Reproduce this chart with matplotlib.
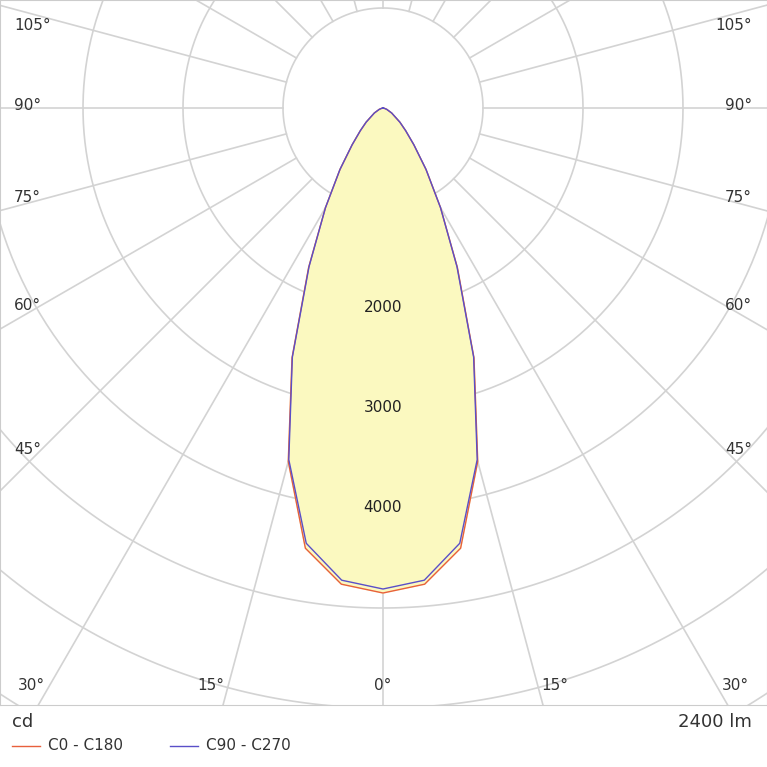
import numpy as np
import matplotlib
matplotlib.use("Agg")
import matplotlib.pyplot as plt

gamma = [0, 5, 10, 15, 20, 25, 30, 35, 40, 45, 50, 60, 70, 80, 90]
c0_c180 = [4850, 4780, 4470, 3660, 2660, 1760, 1150, 750, 480, 320, 220, 100, 40, 10, 0]
c90_c270 = [4810, 4740, 4420, 3640, 2650, 1750, 1150, 750, 480, 320, 220, 100, 40, 10, 0]
ring_labels = [2000, 3000, 4000]
flux_label = "2400 lm"
unit_label = "cd"
series_names = ["C0 - C180", "C90 - C270"]

W = H = 767
fig = plt.figure(figsize=(W/100, H/100), dpi=100)
ax = fig.add_axes([0, (767-705)/767, 1, 705/767])
sc = 10.0  # cd per pixel
ax.set_xlim(-383*sc, (767-383)*sc)
ax.set_ylim(-(705-108)*sc, 108*sc)
ax.set_aspect('auto')
ax.set_xticks([]); ax.set_yticks([])
for s in ax.spines.values():
    s.set_color('#cccccc')

gc = '#d3d3d3'
t = np.linspace(0, 2*np.pi, 400)
for r in range(1000, 9001, 1000):
    ax.plot(r*np.sin(t), r*np.cos(t), color=gc, lw=1.2, zorder=1)
for a in range(0, 360, 15):
    ar = np.radians(a)
    ax.plot([1000*np.sin(ar), 9000*np.sin(ar)], [-1000*np.cos(ar), -9000*np.cos(ar)], color=gc, lw=1.2, zorder=1)

def curve(vals):
    g = np.radians(np.array(gamma))
    v = np.array(vals, float)
    ang = np.concatenate([-g[::-1], g[1:]])
    rr = np.concatenate([v[::-1], v[1:]])
    return rr*np.sin(ang), -rr*np.cos(ang)

x0, y0 = curve(c0_c180)
x1, y1 = curve(c90_c270)
ax.fill(x0, y0, color='#fbf9c0', zorder=2)
ax.plot(x0, y0, color='#e8603c', lw=1, zorder=3)
ax.plot(x1, y1, color='#5a4fc8', lw=1, zorder=4)

for r in ring_labels:
    ax.text(0, -r, str(r), ha='center', va='center', fontsize=11, color='#222222', zorder=5)

def ftext(px, py, s, fontsize=11, **kw):
    fig.text(px/W, 1-py/H, s, fontsize=fontsize, color='#333333', **kw)

for lab, py in [("105°", 25), ("90°", 106), ("75°", 197), ("60°", 305), ("45°", 449)]:
    ftext(14, py, lab, ha='left', va='center')
    ftext(752, py, lab, ha='right', va='center')
for lab, px in [("30°", 31), ("15°", 211), ("0°", 383), ("15°", 555), ("30°", 735)]:
    ftext(px, 685, lab, ha='center', va='center')

ftext(12, 722, unit_label, ha='left', va='center', fontsize=13)
ftext(752, 722, flux_label, ha='right', va='center', fontsize=13)
fig.lines.append(plt.Line2D([12/W, 40/W], [1-746/H]*2, color='#e8603c', lw=1, transform=fig.transFigure))
ftext(48, 746, series_names[0], ha='left', va='center')
fig.lines.append(plt.Line2D([170/W, 198/W], [1-746/H]*2, color='#5a4fc8', lw=1, transform=fig.transFigure))
ftext(206, 746, series_names[1], ha='left', va='center')

fig.savefig("out.png", dpi=100)
